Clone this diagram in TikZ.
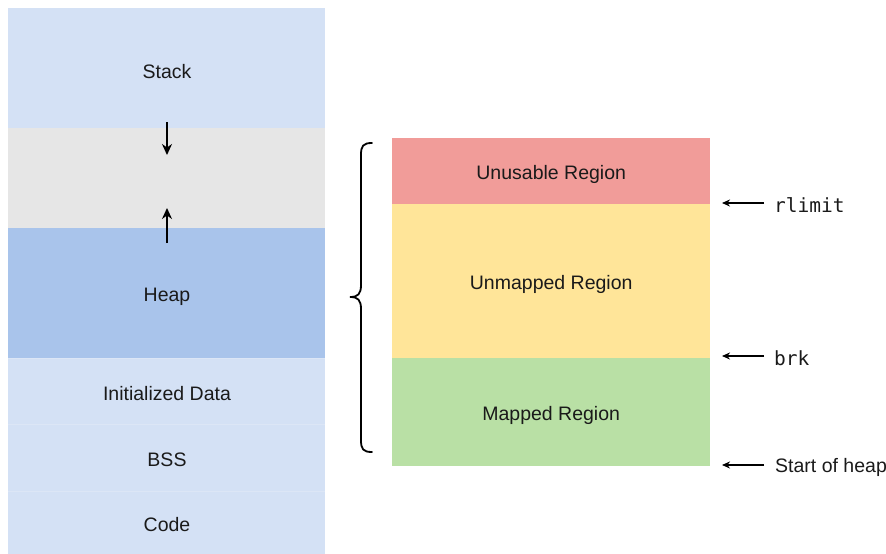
\documentclass[tikz,border=0pt]{standalone}
\usepackage{fontspec}
\setmainfont{Liberation Sans}
\setmonofont{DejaVu Sans Mono}
\usetikzlibrary{arrows.meta}
\definecolor{stackblue}{HTML}{D4E1F5}
\definecolor{heapblue}{HTML}{A9C4EB}
\definecolor{gapgray}{HTML}{E6E6E6}
\definecolor{redreg}{HTML}{F19C99}
\definecolor{yellowreg}{HTML}{FFE599}
\definecolor{greenreg}{HTML}{B9E0A5}
\definecolor{sepline}{HTML}{DCE6F6}
\definecolor{txt}{HTML}{1A1A1A}
\begin{document}
\begin{tikzpicture}[x=1pt,y=-1pt,
  seg/.style={draw=none, rectangle, anchor=north west, inner sep=0pt, minimum width=#1},
  lbl/.style={font=\fontsize{19.5}{22}\selectfont, text=txt},
  mono/.style={font=\fontsize{19.5}{22}\selectfont\ttfamily, text=txt, anchor=west, inner sep=0pt},
  growarrow/.style={line width=2.2pt, -{Stealth[length=11pt,width=10pt]}},
  ptrarrow/.style={line width=1.4pt, -{Stealth[length=8pt,width=7pt]}}]
\useasboundingbox (0,0) rectangle (886,554);
% left column
\node[seg=317pt, minimum height=120pt, fill=stackblue] (stack) at (8,8) {};
\node[seg=317pt, minimum height=100pt, fill=gapgray] (gap) at (8,128) {};
\node[seg=317pt, minimum height=130pt, fill=heapblue] (heap) at (8,228) {};
\node[seg=317pt, minimum height=66pt, fill=stackblue] (init) at (8,358) {};
\node[seg=317pt, minimum height=67pt, fill=stackblue] (bss) at (8,424) {};
\node[seg=317pt, minimum height=63pt, fill=stackblue] (code) at (8,491) {};
\draw[sepline, line width=0.8pt] (init.north west) -- (init.north east);
\draw[sepline, line width=0.8pt] (bss.north west) -- (bss.north east);
\draw[sepline, line width=0.8pt] (code.north west) -- (code.north east);
\node[lbl] (stackt) at (167,72) {Stack};
\node[lbl] (heapt) at (167,297) {Heap};
\node[lbl] (initt) at (167,394) {Initialized Data};
\node[lbl] (bsst) at (167,460) {BSS};
\node[lbl] (codet) at (167,525) {Code};
\coordinate (d1) at (167,122);
\coordinate (d2) at (167,155);
\coordinate (u1) at (167,243);
\coordinate (u2) at (167,208);
\draw[growarrow] (d1) -- (d2);
\draw[growarrow] (u1) -- (u2);
% brace
\draw[line width=1.8pt, line cap=round]
  (372,143) .. controls (363,143) and (361,146) .. (361,155) -- (361,285)
  .. controls (361,294) and (358,297) .. (350,297)
  .. controls (358,297) and (361,300) .. (361,309) -- (361,440)
  .. controls (361,449) and (363,452) .. (372,452);
% right regions
\node[seg=318pt, minimum height=66pt, fill=redreg] (unus) at (392,138) {};
\node[seg=318pt, minimum height=154pt, fill=yellowreg] (unmap) at (392,204) {};
\node[seg=318pt, minimum height=108pt, fill=greenreg] (mapd) at (392,358) {};
\node[lbl] (unust) at ([yshift=-3pt]unus.center) {Unusable Region};
\node[lbl] (unmapt) at ([yshift=-3pt]unmap.center) {Unmapped Region};
\node[lbl] (mapdt) at ([yshift=-3pt]mapd.center) {Mapped Region};
% pointers
\node[mono] (rl) at (774,205) {rlimit};
\node[mono] (brk) at (774,358) {brk};
\node[lbl, anchor=west, inner sep=0pt] (soh) at (775,467) {Start of heap};
\coordinate (a1) at (764,203);
\coordinate (b1) at (722,203);
\coordinate (a2) at (764,356);
\coordinate (b2) at (722,356);
\coordinate (a3) at (764,465);
\coordinate (b3) at (722,465);
\draw[ptrarrow] (a1) -- (b1);
\draw[ptrarrow] (a2) -- (b2);
\draw[ptrarrow] (a3) -- (b3);
\end{tikzpicture}
\end{document}
